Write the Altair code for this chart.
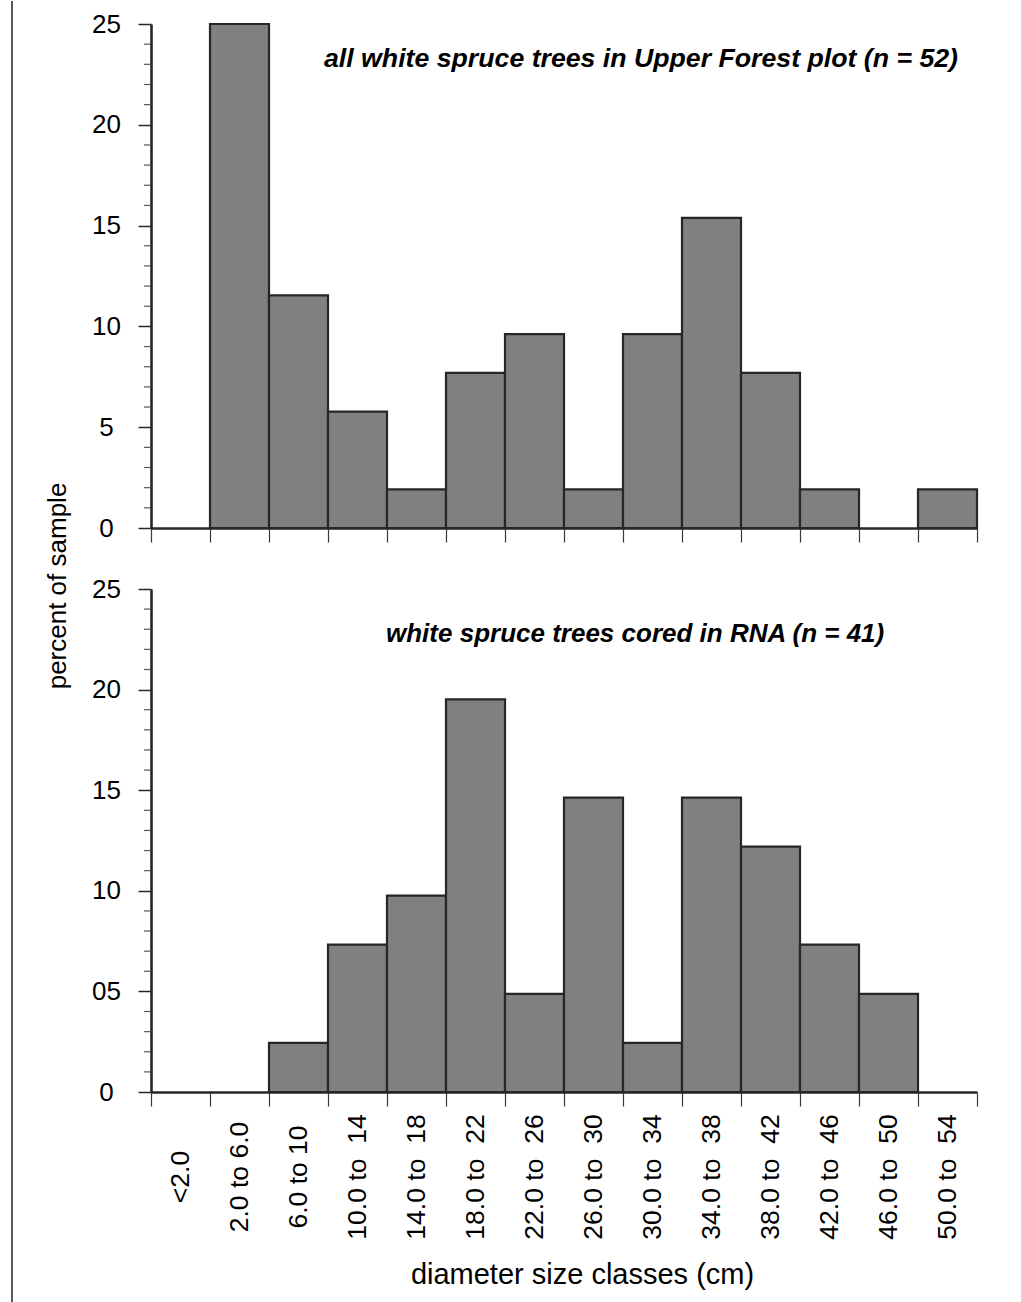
import altair as alt
import pandas as pd

# ---- data ----
classes = ["<2.0", "2.0 to 6.0", "6.0 to 10", "10.0 to\u00a0 14", "14.0 to\u00a0 18",
           "18.0 to\u00a0 22", "22.0 to\u00a0 26", "26.0 to\u00a0 30", "30.0 to\u00a0 34",
           "34.0 to\u00a0 38", "38.0 to\u00a0 42", "42.0 to\u00a0 46", "46.0 to\u00a0 50",
           "50.0 to\u00a0 54"]
bin_start = [0, 1, 2, 3, 4, 5, 6, 7, 8, 9, 10, 11, 12, 13]
bin_end = [1, 2, 3, 4, 5, 6, 7, 8, 9, 10, 11, 12, 13, 14]
upper_pct = [0, 25.0, 11.54, 5.77, 1.92, 7.69, 9.62, 1.92, 9.62, 15.38, 7.69, 1.92, 0, 1.92]
rna_pct = [0, 0, 2.44, 7.32, 9.76, 19.51, 4.88, 14.63, 2.44, 14.63, 12.20, 7.32, 4.88, 0]
y_major = [0, 5, 10, 15, 20, 25]
y_minor = [1, 2, 3, 4, 6, 7, 8, 9, 11, 12, 13, 14, 16, 17, 18, 19, 21, 22, 23, 24]
x_edges = [0, 1, 2, 3, 4, 5, 6, 7, 8, 9, 10, 11, 12, 13, 14]
note_upper = "all white spruce trees in Upper Forest plot (n = 52)"
note_rna = "white spruce trees cored in RNA (n = 41)"
y_title = "percent of sample"
x_title = "diameter size classes (cm)"

FONT = "Liberation Sans"
INK = "#262626"
W = 826


def panel(pcts, height, note, note_x, note_y, note_align, note_size, bottom):
    df = pd.DataFrame({"start": bin_start, "end": bin_end,
                       "label": classes, "pct": pcts})
    xs = alt.Scale(domain=[0, 14], nice=False, zero=False)
    ys = alt.Scale(domain=[0, 25], nice=False)
    xaxis_kw = dict(values=x_edges, labels=False, tickSize=14, tickWidth=1.2,
                    tickColor="#3a3a3a", domainColor=INK, domainWidth=2.5, grid=False)
    if bottom:
        xaxis = alt.Axis(title=x_title, titleFont=FONT, titleFontSize=29,
                         titleFontWeight="normal", titleColor="black",
                         titleX=431, titleY=182, titleAlign="center",
                         titleBaseline="middle", **xaxis_kw)
        label_expr = "datum.value == 5 ? '05' : datum.label"
    else:
        xaxis = alt.Axis(title=None, **xaxis_kw)
        label_expr = "datum.label"
    yaxis = alt.Axis(values=y_major, tickSize=13, tickWidth=1.5, tickColor=INK,
                     domainColor=INK, domainWidth=2.6, labelAlign="center",
                     labelBaseline="middle", labelPadding=32, labelFontSize=26,
                     labelFont=FONT, labelColor="black", title=None, grid=False,
                     labelExpr=label_expr)

    bars = alt.Chart(df[df["pct"] > 0]).mark_bar(
        fill="#808080", stroke=INK, strokeWidth=2.2
    ).encode(
        x=alt.X("start:Q", scale=xs, axis=xaxis),
        x2="end:Q",
        y=alt.Y("pct:Q", scale=ys, axis=yaxis),
        y2=alt.datum(0),
    )
    minor = alt.Chart(pd.DataFrame({"pct": y_minor})).mark_rule(
        color="#555555", strokeWidth=1.2
    ).encode(
        y=alt.Y("pct:Q", scale=ys, axis=yaxis),
        x=alt.value(-7), x2=alt.value(0),
    )
    text = alt.Chart(pd.DataFrame({"t": [note]})).mark_text(
        font=FONT, fontSize=note_size, fontWeight="bold", fontStyle="italic",
        align=note_align, baseline="alphabetic", color="black"
    ).encode(x=alt.value(note_x), y=alt.value(note_y), text="t:N")
    layers = [bars, minor, text]
    if bottom:
        labels = alt.Chart(df).mark_text(
            font=FONT, fontSize=26.5, angle=270, align="center",
            baseline="middle", color="black"
        ).encode(
            x=alt.X("start:Q", scale=xs, axis=xaxis),
            xOffset=alt.value(29.5),
            y=alt.value(588),
            text="label:N",
        )
        layers.append(labels)
    else:
        ytitle = alt.Chart(pd.DataFrame({"t": [y_title]})).mark_text(
            font=FONT, fontSize=26, angle=270, align="center",
            baseline="middle", color="black"
        ).encode(x=alt.value(-93), y=alt.value(562), text="t:N")
        frame = alt.Chart(pd.DataFrame({"t": [0]})).mark_rule(
            color="black", strokeWidth=1.3
        ).encode(x=alt.value(-139), y=alt.value(-23), y2=alt.value(1279))
        layers += [ytitle, frame]
    return alt.layer(*layers).properties(width=W, height=height)


top = panel(upper_pct, 504, note_upper, 807, 43, "right", 26.7, False)
bot = panel(rna_pct, 503, note_rna, 235, 53, "left", 26, True)

chart = alt.vconcat(top, bot, spacing=61, bounds="flush").properties(
    padding={"left": 11, "top": 0, "right": 10, "bottom": 0}
).configure_view(stroke=None)

chart.save("out.html", embed_options={"renderer": "svg", "actions": False})
